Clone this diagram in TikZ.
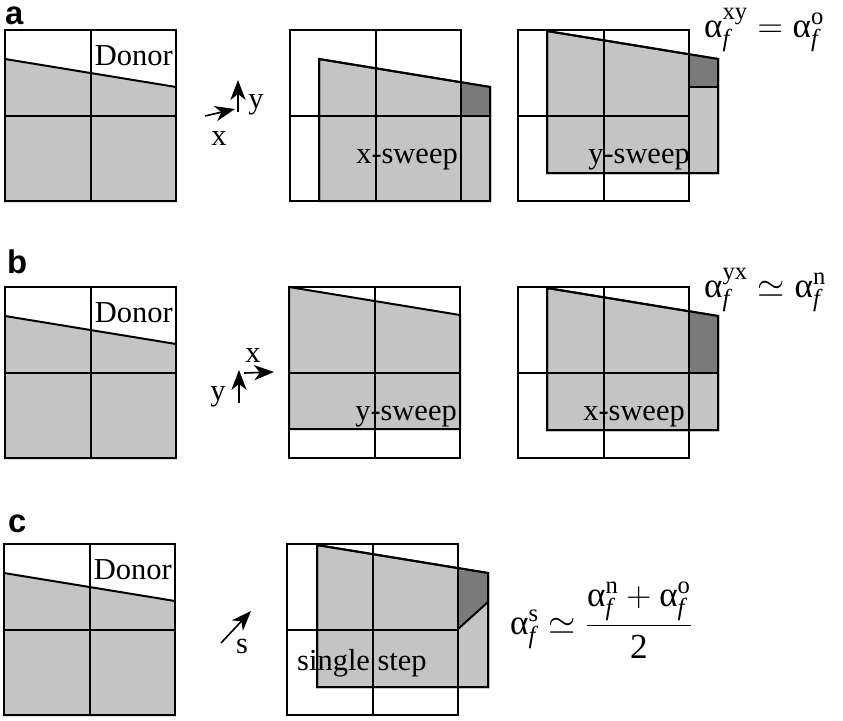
\RequirePackage{fix-cm}
\documentclass[tikz,border=0pt]{standalone}
\usepackage{amsmath}
\usepackage{fontspec}
\setmainfont{Liberation Serif}
\setsansfont{Liberation Sans}
\usetikzlibrary{arrows.meta}

\definecolor{fillgray}{gray}{0.77}
\definecolor{shadegray}{gray}{0.48}

% 2x2 cell grid, top-left corner at (#1,#2)
\newcommand{\cellgrid}[2]{%
  \draw[gridline] (#1,#2) rectangle (#1+171,#2+171)
    (#1+86,#2) -- (#1+86,#2+171)
    (#1,#2+86) -- (#1+171,#2+86);}

% sloped donor shape, top-left corner at (#1,#2)
\newcommand{\donorpatch}[2]{%
  \filldraw[fill=fillgray,gridline] (#1,#2+171) -- (#1,#2+29) -- (#1+171,#2+57) -- (#1+171,#2+171) -- cycle;}

\newcommand{\alf}{\text{α}}

\begin{document}
\begin{tikzpicture}[x=0.03cm,y=-0.03cm,
  gridline/.style={line width=1.7pt},
  lbl/.style={font=\fontsize{26}{30}\selectfont,inner sep=0pt},
  panel/.style={font=\sffamily\bfseries\fontsize{28}{32}\selectfont,inner sep=0pt,text height=0.55em},
  eqn/.style={font=\fontsize{30}{36}\selectfont,inner sep=0pt},
  dirarrow/.style={line width=1.4pt,-{Stealth[length=17pt,width=13pt,inset=5pt]}}]

\useasboundingbox (0,0) rectangle (843,720);

% ---------------- row a ----------------
\node[panel,anchor=base west] (la) at (5,24) {a};
\donorpatch{5}{30}
\cellgrid{5}{30}
\node[lbl,anchor=base east] (donora) at (173,65) {Donor};

\coordinate (axs) at (205,116);
\coordinate (axe) at (235,109);
\coordinate (ays) at (238,112);
\coordinate (aye) at (238,80);
\draw[dirarrow] (axs) -- (axe);
\draw[dirarrow] (ays) -- (aye);
\node[lbl,anchor=base] (axl) at (219,145) {x};
\node[lbl,anchor=base] (ayl) at (256,108) {y};

% x-sweep
\donorpatch{319}{30}
\fill[shadegray] (461,82) -- (490,87) -- (490,116) -- (461,116) -- cycle;
\draw[gridline] (319,201) -- (319,59) -- (490,87) -- (490,201);
\draw[gridline] (290,116) -- (490,116);
\cellgrid{290}{30}
\node[lbl,anchor=base east] (xsa) at (458,163) {x-sweep};

% y-sweep
\donorpatch{547}{2}
\fill[shadegray] (689,55) -- (718,59) -- (718,87) -- (689,87) -- cycle;
\draw[gridline] (547,173) -- (547,31) -- (718,59) -- (718,173) -- cycle;
\draw[gridline] (689,87) -- (718,87);
\cellgrid{518}{30}
\node[lbl,anchor=base east] (ysa) at (690,163) {y-sweep};

\node[eqn,anchor=base west] (eqa) at (704,37)
  {$\alf^{\mathrm{xy}}_{\mathit{f}} = \alf^{\mathrm{o}}_{\mathit{f}}$};

% ---------------- row b ----------------
\node[panel,anchor=base west] (lb) at (7,273) {b};
\donorpatch{5}{287}
\cellgrid{5}{287}
\node[lbl,anchor=base east] (donorb) at (173,322) {Donor};

\coordinate (bxs) at (244,373);
\coordinate (bxe) at (274,372);
\coordinate (bys) at (239,403);
\coordinate (bye) at (239,370);
\draw[dirarrow] (bxs) -- (bxe);
\draw[dirarrow] (bys) -- (bye);
\node[lbl,anchor=base] (bxl) at (253,362) {x};
\node[lbl,anchor=base] (byl) at (218,400) {y};

% y-sweep
\donorpatch{289}{258}
\cellgrid{289}{287}
\node[lbl,anchor=base east] (ysb) at (457,420) {y-sweep};

% x-sweep
\donorpatch{547}{259}
\fill[shadegray] (689,311) -- (718,316) -- (718,373) -- (689,373) -- cycle;
\draw[gridline] (547,430) -- (547,288) -- (718,316) -- (718,430) -- cycle;
\draw[gridline] (518,373) -- (718,373);
\cellgrid{518}{287}
\node[lbl,anchor=base east] (xsb) at (685,420) {x-sweep};

\node[eqn,anchor=base west] (eqb) at (704,297)
  {$\alf^{\mathrm{yx}}_{\mathit{f}} \simeq \alf^{\mathrm{n}}_{\mathit{f}}$};

% ---------------- row c ----------------
\node[panel,anchor=base west] (lc) at (8,532) {c};
\donorpatch{4}{544}
\cellgrid{4}{544}
\node[lbl,anchor=base east] (donorc) at (172,579) {Donor};

\coordinate (cs) at (221,643);
\coordinate (ce) at (251,611);
\draw[dirarrow] (cs) -- (ce);
\node[lbl,anchor=base] (csl) at (242,653) {s};

% single step
\donorpatch{317}{516}
\fill[shadegray] (458,570) -- (488,573) -- (488,602) -- (458,629) -- cycle;
\draw[gridline] (317,687) -- (317,545) -- (488,573) -- (488,687) -- cycle;
\draw[gridline] (458,629) -- (488,602);
\cellgrid{287}{544}
\node[lbl,anchor=base west] (sst) at (297,670) {single step};

\node[eqn,anchor=base west] (eqc) at (510,634)
  {$\alf^{\mathrm{s}}_{\mathit{f}} \simeq \dfrac{\alf^{\mathrm{n}}_{\mathit{f}} + \alf^{\mathrm{o}}_{\mathit{f}}}{\text{2}}$};

\end{tikzpicture}
\end{document}
